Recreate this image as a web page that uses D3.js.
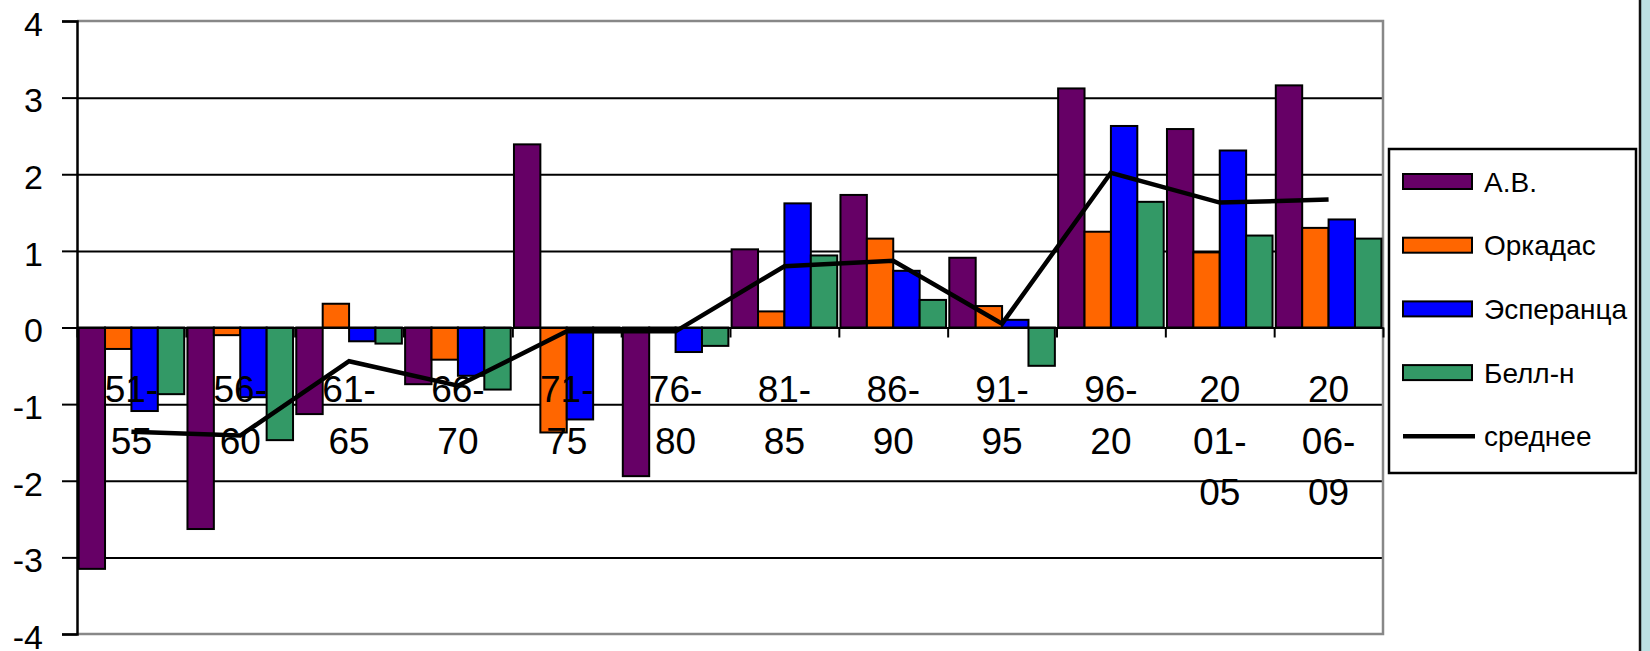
<!DOCTYPE html>
<html>
<head>
<meta charset="utf-8">
<script src="https://cdn.jsdelivr.net/npm/d3@7/dist/d3.min.js"></script>
<style>
  body { margin: 0; background: #fff; }
  svg { display: block; font-family: "Liberation Sans", Arial, sans-serif; }
</style>
</head>
<body>
<div id="chart"></div>
<script>
// categories (multi-line tick labels)
const categories = ['51-55', '56-60', '61-65', '66-70', '71-75', '76-80', '81-85', '86-90', '91-95', '96-20', '2001-05', '2006-09'];
const categoryLines = [
  ['51-', '55'], ['56-', '60'], ['61-', '65'], ['66-', '70'], ['71-', '75'], ['76-', '80'],
  ['81-', '85'], ['86-', '90'], ['91-', '95'], ['96-', '20'], ['20', '01-', '05'], ['20', '06-', '09']
];

const seriesNames = ['А.В.', 'Оркадас', 'Эсперанца', 'Белл-н'];
const seriesColors = ['#660066', '#ff6600', '#0000ff', '#339966'];

const avValues = [-3.15, -2.63, -1.13, -0.74, 2.39, -1.94, 1.02, 1.73, 0.91, 3.12, 2.59, 3.16];
const orkadasValues = [-0.28, -0.10, 0.31, -0.42, -1.37, -0.02, 0.21, 1.16, 0.28, 1.25, 0.98, 1.30];
const esperanzaValues = [-1.09, -0.91, -0.18, -0.63, -1.20, -0.32, 1.62, 0.74, 0.10, 2.63, 2.31, 1.41];
const bellValues = [-0.87, -1.47, -0.21, -0.81, -0.06, -0.24, 0.94, 0.36, -0.50, 1.64, 1.20, 1.16];

const meanName = 'среднее';
const meanValues = [-1.36, -1.41, -0.44, -0.76, -0.05, -0.05, 0.80, 0.87, 0.05, 2.02, 1.63, 1.67];

const yTicks = [-4, -3, -2, -1, 0, 1, 2, 3, 4];

const allSeries = [avValues, orkadasValues, esperanzaValues, bellValues];

const W = 1650, H = 651;
const plot = { left: 77, right: 1383, top: 21, bottom: 634 };

const svg = d3.select('#chart').append('svg')
  .attr('width', W)
  .attr('height', H);

svg.append('rect').attr('width', W).attr('height', H).attr('fill', '#fff');

// right edge strip
svg.append('rect').attr('x', 1641).attr('y', 0).attr('width', 9).attr('height', H).attr('fill', '#bde0e3');
svg.append('line').attr('x1', 1640).attr('x2', 1640).attr('y1', 0).attr('y2', H)
  .attr('stroke', '#111').attr('stroke-width', 2.5);

const y = d3.scaleLinear().domain([-4, 4]).range([plot.bottom, plot.top]);

const x0 = d3.scaleBand()
  .domain(categories)
  .range([plot.left, plot.right])
  .paddingInner(0.03)
  .paddingOuter(0.015);

const x1 = d3.scaleBand()
  .domain(d3.range(seriesNames.length))
  .range([0, x0.bandwidth()]);

const xEdge = d3.scaleLinear().domain([0, categories.length]).range([plot.left, plot.right]);

// gridlines
svg.append('g')
  .attr('class', 'grid')
  .attr('transform', `translate(${plot.left},0)`)
  .call(d3.axisLeft(y).tickValues(yTicks.filter(d => d !== 0 && Math.abs(d) !== 4)).tickSize(-(plot.right - plot.left)).tickFormat(''))
  .call(g => g.select('.domain').remove())
  .call(g => g.selectAll('line').attr('stroke', '#000').attr('stroke-width', 2));

// plot border (top, right, bottom)
svg.append('path')
  .attr('d', `M${plot.left},${plot.top}H${plot.right}V${plot.bottom}H${plot.left}`)
  .attr('fill', 'none')
  .attr('stroke', '#888')
  .attr('stroke-width', 2.5);

// bars
const groups = svg.append('g').selectAll('g')
  .data(categories)
  .enter().append('g')
  .attr('transform', d => `translate(${x0(d)},0)`);

groups.selectAll('rect')
  .data((d, i) => allSeries.map((s, k) => ({ k: k, v: s[i] })))
  .enter().append('rect')
  .attr('x', d => x1(d.k))
  .attr('y', d => y(Math.max(0, d.v)))
  .attr('width', x1.bandwidth())
  .attr('height', d => Math.abs(y(d.v) - y(0)))
  .attr('fill', d => seriesColors[d.k])
  .attr('stroke', '#000')
  .attr('stroke-width', 2);

// category axis on zero line
svg.append('g')
  .attr('transform', `translate(0,${y(0)})`)
  .call(d3.axisBottom(xEdge).tickValues(d3.range(categories.length + 1)).tickSize(10).tickSizeOuter(0).tickFormat(''))
  .call(g => g.select('.domain').attr('stroke', '#000').attr('stroke-width', 2))
  .call(g => g.selectAll('.tick line').attr('stroke', '#000').attr('stroke-width', 2));

// category labels
const labels = svg.append('g');
categories.forEach((c, i) => {
  const t = labels.append('text')
    .attr('x', x0(c) + x0.bandwidth() / 2)
    .attr('y', y(0) + 74.5)
    .attr('text-anchor', 'middle')
    .attr('font-size', 37)
    .attr('fill', '#000');
  categoryLines[i].forEach((ln, j) => {
    t.append('tspan')
      .attr('x', x0(c) + x0.bandwidth() / 2)
      .attr('dy', j === 0 ? 0 : 51.5)
      .text(ln);
  });
});

// y axis (plain hyphen for negatives, like the original)
svg.append('g')
  .attr('transform', `translate(${plot.left},0)`)
  .call(d3.axisLeft(y).tickValues(yTicks).tickSize(15).tickPadding(19).tickFormat(d => String(d)))
  .call(g => g.select('.domain').attr('stroke', '#000').attr('stroke-width', 2.5))
  .call(g => g.selectAll('.tick line').attr('stroke', '#000').attr('stroke-width', 2))
  .call(g => g.selectAll('.tick text')
    .attr('font-size', 34)
    .attr('font-family', '"Liberation Sans", Arial, sans-serif')
    .attr('fill', '#000')
    .attr('dy', '0.42em'));

// mean line
const line = d3.line()
  .x((d, i) => x0(categories[i]) + x0.bandwidth() / 2)
  .y(d => y(d));

svg.append('path')
  .datum(meanValues)
  .attr('d', line)
  .attr('fill', 'none')
  .attr('stroke', '#000')
  .attr('stroke-width', 4.5)
  .attr('stroke-linejoin', 'miter');

// legend
const legend = svg.append('g');
legend.append('rect')
  .attr('x', 1389).attr('y', 149)
  .attr('width', 247).attr('height', 324)
  .attr('fill', '#fff')
  .attr('stroke', '#000')
  .attr('stroke-width', 2.5);

const legendItems = seriesNames.concat([meanName]);
legendItems.forEach((name, i) => {
  const cy = 181.5 + i * 63.7;
  if (i < seriesNames.length) {
    legend.append('rect')
      .attr('x', 1403).attr('y', cy - 7.5)
      .attr('width', 69).attr('height', 15)
      .attr('fill', seriesColors[i])
      .attr('stroke', '#000')
      .attr('stroke-width', 2);
  } else {
    legend.append('line')
      .attr('x1', 1403).attr('x2', 1475)
      .attr('y1', cy).attr('y2', cy)
      .attr('stroke', '#000')
      .attr('stroke-width', 4.5);
  }
  legend.append('text')
    .attr('x', 1484)
    .attr('y', cy)
    .attr('dy', '0.36em')
    .attr('font-size', 28)
    .attr('fill', '#000')
    .text(name);
});
</script>
</body>
</html>
